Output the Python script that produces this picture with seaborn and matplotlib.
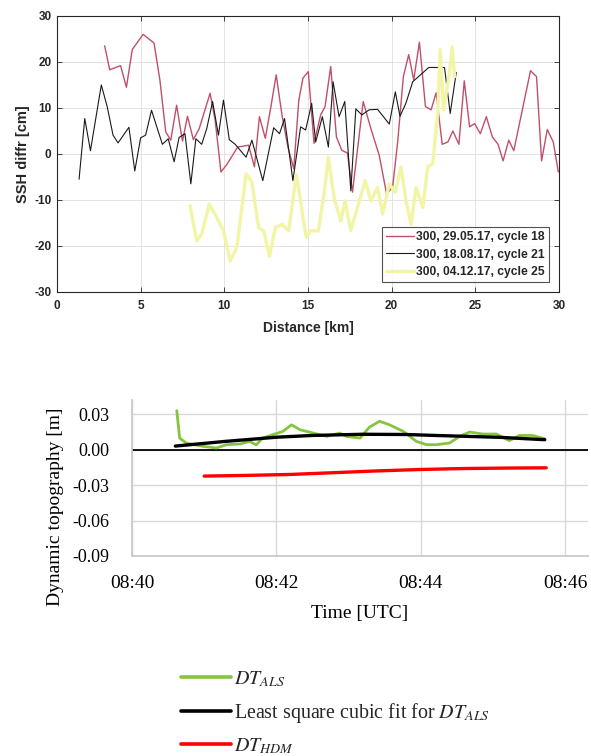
import matplotlib
matplotlib.use("Agg")
import matplotlib.pyplot as plt
import matplotlib.ticker as mticker
import seaborn as sns
from matplotlib.lines import Line2D

# --- SSH differences, track 300 (distance in km, diff in cm) ---
red_label = "300, 29.05.17, cycle 18"
red_dist = [2.85, 3.15, 3.8, 4.15, 4.5, 5.15, 5.8, 6.15, 6.5, 6.8, 7.15, 7.5, 7.8, 8.15, 8.5,
            9.15, 9.45, 9.8, 10.15, 10.8, 11.45, 11.8, 12.1, 12.45, 12.8, 13.1, 13.45, 13.8,
            14.15, 14.45, 14.7, 15.02, 15.36, 15.76, 16.02, 16.36, 16.7, 17.02, 17.36, 17.66,
            18.3, 18.76, 19.26, 19.7, 20.06, 20.36, 20.7, 21.02, 21.32, 21.66, 22.02, 22.36,
            22.66, 23.02, 23.36, 23.66, 24.02, 24.34, 24.66, 24.96, 25.3, 25.66, 26.02, 26.36,
            26.66, 27.0, 27.3, 28.3, 28.66, 28.96, 29.3, 29.66, 29.96]
red_ssh = [23.5, 18.3, 19.2, 14.5, 22.7, 26.0, 24.1, 16.1, 4.8, 3.0, 10.6, 2.8, 8.2, 3.1, 5.5,
           13.2, 7.4, -3.9, -2.3, 1.5, 1.9, -2.8, 8.1, 3.4, 10.6, 17.2, 8.4, 1.5,
           -3.2, 11.6, 16.5, 17.9, 2.3, 8.5, 10.3, 19.0, 3.7, 0.8, 0.2, -8.3,
           11.4, 5.5, -0.3, -8.7, -7.2, 2.6, 16.8, 21.6, 16.1, 24.3, 10.3, 9.6,
           13.3, 2.1, 2.6, 5.0, 2.1, 15.9, 5.9, 6.6, 4.4, 8.1, 3.7, 2.1,
           -1.5, 3.0, 0.7, 18.1, 16.8, -1.5, 5.3, 2.6, -3.9]

black_label = "300, 18.08.17, cycle 21"
black_dist = [1.32, 1.66, 2.0, 2.65, 3.0, 3.35, 3.65, 4.3, 4.65, 5.0, 5.3, 5.65, 6.0, 6.3, 6.65,
              7.0, 7.3, 7.65, 8.0, 8.3, 8.65, 8.95, 9.3, 9.65, 9.95, 10.3, 10.65, 11.3, 11.65,
              12.3, 12.95, 13.3, 13.6, 14.1, 14.56, 14.86, 15.22, 15.46, 15.86, 16.22, 16.5,
              16.86, 17.2, 17.56, 17.86, 18.22, 18.66, 19.16, 19.86, 20.22, 20.5, 20.85, 21.26,
              22.22, 23.16, 23.5, 23.86]
black_ssh = [-5.5, 7.7, 0.7, 15.0, 10.3, 4.1, 2.4, 5.8, -3.7, 3.5, 4.1, 9.5, 5.5, 2.1, 3.3,
             -1.7, 3.6, 4.4, -6.5, 3.3, 2.1, 5.5, 11.4, 4.1, 11.7, 3.1, 2.1, -0.7, 3.0,
             -5.8, 5.7, 4.4, 7.7, -5.8, 5.9, 5.2, 11.0, 2.6, 8.1, 1.5, 15.7,
             8.1, 11.4, -8.0, 9.8, 8.5, 9.6, 9.7, 6.5, 13.5, 8.2, 11.0, 15.7,
             18.8, 18.8, 8.8, 17.7]

yellow_label = "300, 04.12.17, cycle 25"
yellow_dist = [7.95, 8.35, 8.65, 9.1, 9.55, 9.95, 10.35, 10.75, 11.3, 11.65, 12.05, 12.35, 12.7,
               13.05, 13.45, 13.85, 14.1, 14.3, 14.5, 14.7, 14.9, 15.16, 15.62, 15.96, 16.22,
               16.56, 16.96, 17.22, 17.56, 17.96, 18.42, 18.76, 19.16, 19.46, 19.86, 20.22,
               20.56, 20.86, 21.16, 21.46, 21.86, 22.16, 22.46, 22.76, 22.9, 23.1, 23.42,
               23.62, 23.76]
yellow_ssh = [-11.2, -18.9, -17.4, -10.9, -13.8, -16.7, -23.3, -20.3, -4.3, -6.1, -16.0, -16.7,
              -22.2, -16.0, -15.3, -16.7, -10.0, -4.5, -8.7, -13.8, -18.1, -16.7, -16.7, -8.7,
              -0.7, -9.5, -14.6, -10.2, -16.7, -11.6, -5.8, -10.2, -7.3, -13.1, -6.5, -8.3,
              -2.8, -10.2, -15.3, -7.3, -11.6, -2.8, -2.1, 9.6, 22.7, 9.6, 16.8, 23.3, 16.8]

# --- Dynamic topography (minutes after 08:40, metres) ---
time_tick_labels = ["08:40", "08:42", "08:44", "08:46"]
als_min = [0.62, 0.66, 0.75, 0.98, 1.17, 1.31, 1.5, 1.63, 1.72, 1.81, 1.95, 2.09, 2.21, 2.33,
           2.51, 2.7, 2.88, 2.97, 3.16, 3.29, 3.43, 3.57, 3.76, 3.94, 4.08, 4.22, 4.4, 4.54,
           4.68, 4.86, 5.05, 5.23, 5.37, 5.55, 5.72]
als_dt = [0.033, 0.0098, 0.0056, 0.0028, 0.0014, 0.0042, 0.0048, 0.007, 0.004, 0.0098, 0.0126,
          0.0154, 0.021, 0.0168, 0.014, 0.0112, 0.014, 0.0112, 0.0098, 0.019, 0.024, 0.021,
          0.0154, 0.007, 0.0042, 0.0042, 0.0056, 0.0112, 0.0149, 0.0132, 0.0132, 0.0076,
          0.012, 0.012, 0.0092]
fit_min = [0.6, 1.3, 2.0, 2.5, 3.2, 3.8, 4.2, 5.1, 5.72]
fit_dt = [0.003, 0.007, 0.0105, 0.012, 0.013, 0.0128, 0.012, 0.0104, 0.0084]
hdm_min = [1.0, 1.6, 2.2, 2.8, 3.4, 4.0, 4.6, 5.2, 5.74]
hdm_dt = [-0.0224, -0.0218, -0.021, -0.0195, -0.018, -0.0168, -0.016, -0.0156, -0.0154]

sns.set_theme(style="whitegrid")
plt.rcParams["axes.unicode_minus"] = False
plt.rcParams["mathtext.fontset"] = "stix"

fig = plt.figure(figsize=(5.91, 7.56), dpi=100)
ax1 = fig.add_axes([0.0964, 0.6138, 0.8494, 0.3651])
ax2 = fig.add_axes([0.2234, 0.2646, 0.7716, 0.2063])

# top panel (MATLAB look)
sns.lineplot(x=red_dist, y=red_ssh, ax=ax1, color="#c0506a", linewidth=1.0, label=red_label)
sns.lineplot(x=black_dist, y=black_ssh, ax=ax1, color="#1a1a1a", linewidth=0.8, label=black_label)
sns.lineplot(x=yellow_dist, y=yellow_ssh, ax=ax1, color="#f2f5a6", linewidth=2.4, label=yellow_label)
ax1.set_xlim(0, 30)
ax1.set_ylim(-30, 30)
ax1.set_xticks(range(0, 31, 5))
ax1.set_yticks(range(-30, 31, 10))
ax1.grid(True, color="#dedede", linewidth=0.6)
for sp in ax1.spines.values():
    sp.set_visible(True)
    sp.set_color("#262626")
    sp.set_linewidth(0.8)
ax1.tick_params(which="both", direction="in", length=3.5, width=0.6, color="#262626",
                bottom=True, left=True, top=True, right=True, pad=4)
ax1.tick_params(axis="x", pad=6)
for lab in ax1.get_xticklabels() + ax1.get_yticklabels():
    lab.set_fontfamily("Liberation Sans")
    lab.set_fontweight("bold")
    lab.set_fontsize(8.5)
    lab.set_color("#262626")
ax1.set_xlabel("Distance [km]", family="Liberation Sans", fontweight="bold", fontsize=10,
               color="#262626", labelpad=6)
ax1.set_ylabel("SSH diffr [cm]", family="Liberation Sans", fontweight="bold", fontsize=10.5,
               color="#262626", labelpad=3)
leg = ax1.legend(loc="lower right", frameon=True, fancybox=False, handlelength=2.3,
                 handletextpad=0.2, borderpad=0.35, labelspacing=0.45, borderaxespad=0.8,
                 prop={"family": "Liberation Sans", "weight": "bold", "size": 8.7})
leg.get_frame().set_edgecolor("#262626")
leg.get_frame().set_linewidth(0.8)

# bottom panel (Excel look)
sns.lineplot(x=als_min, y=als_dt, ax=ax2, color="#86c440", linewidth=2.0)
sns.lineplot(x=fit_min, y=fit_dt, ax=ax2, color="black", linewidth=2.4)
sns.lineplot(x=hdm_min, y=hdm_dt, ax=ax2, color="#ff0000", linewidth=2.4)
ax2.axhline(0, color="black", linewidth=1.3, zorder=1.5)
ax2.set_xlim(0, 6.32)
ax2.set_ylim(-0.09, 0.042)
ax2.set_xticks([0, 2, 4, 6])
ax2.set_xticklabels(time_tick_labels)
ax2.set_yticks([-0.09, -0.06, -0.03, 0.0, 0.03])
ax2.yaxis.set_major_formatter(mticker.FormatStrFormatter("%.2f"))
ax2.grid(True, color="#d9d9d9", linewidth=1.0)
ax2.spines["top"].set_visible(False)
ax2.spines["right"].set_visible(False)
ax2.spines["left"].set_color("#c8c8c8")
ax2.spines["bottom"].set_color("#c8c8c8")
ax2.tick_params(axis="x", length=0, labelsize=14, pad=14)
ax2.tick_params(axis="y", length=0, labelsize=13, pad=16)
for lab in ax2.get_xticklabels() + ax2.get_yticklabels():
    lab.set_fontfamily("Liberation Serif")
    lab.set_color("black")
ax2.set_xlabel("Time [UTC]", family="Liberation Serif", fontsize=14, color="black", labelpad=9)
ax2.set_ylabel("Dynamic topography [m]", family="Liberation Serif", fontsize=14, color="black")
ax2.yaxis.set_label_coords(-0.149, 0.314)
if ax2.get_legend() is not None:
    ax2.get_legend().remove()

handles = [Line2D([], [], color="#86c440", linewidth=2.6),
           Line2D([], [], color="black", linewidth=2.6),
           Line2D([], [], color="#ff0000", linewidth=2.6)]
labels = [r"$DT_{ALS}$", r"Least square cubic fit for $DT_{ALS}$", r"$DT_{HDM}$"]
fig.legend(handles, labels, loc="upper left", bbox_to_anchor=(0.29, 0.128), frameon=False,
           handlelength=2.5, handletextpad=0.15, labelspacing=0.58, borderpad=0,
           prop={"family": "Liberation Serif", "size": 14.4})

fig.savefig("out.png", dpi=100)
